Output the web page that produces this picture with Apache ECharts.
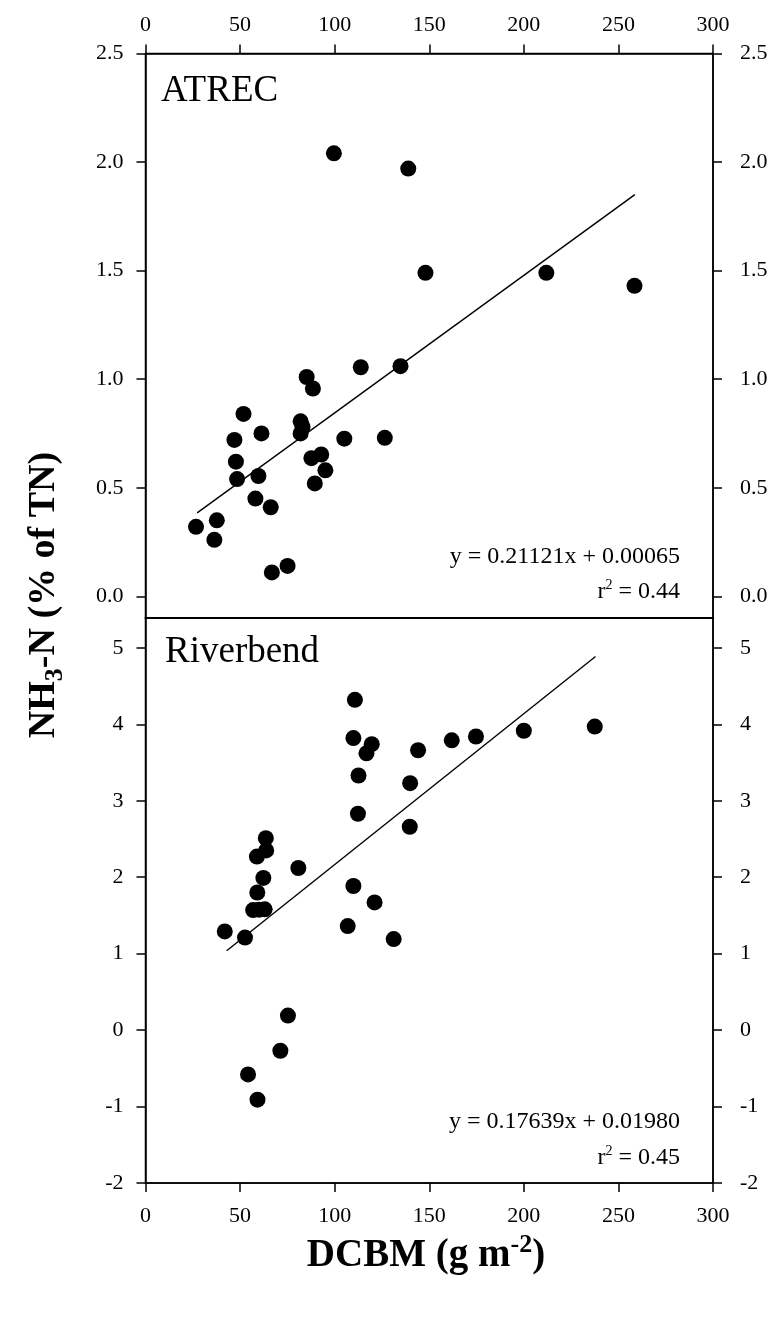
<!DOCTYPE html>
<html>
<head>
<meta charset="utf-8">
<script src="https://cdn.jsdelivr.net/npm/echarts@6/dist/echarts.min.js"></script>
<style>
html,body{margin:0;padding:0;background:#fff;}
#chart{width:776px;height:1318px;}
</style>
</head>
<body>
<div id="chart"></div>
<script>
// ---- data ----
const xTicks = [0, 50, 100, 150, 200, 250, 300];
const atrecYTicks = [0, 0.5, 1.0, 1.5, 2.0, 2.5];
const riverYTicks = [-2, -1, 0, 1, 2, 3, 4, 5];

const atrecX = [99.6, 138.9, 148.0, 211.9, 258.5, 113.8, 134.8, 85.2, 88.5, 51.8, 82.0, 83.0, 82.0, 61.3, 47.0, 105.1, 126.5, 47.8, 87.7, 92.9, 95.1, 48.4, 59.7, 89.5, 58.1, 66.2, 37.7, 26.7, 36.4, 75.1, 66.8];
const atrecY = [2.04, 1.97, 1.49, 1.49, 1.43, 1.055, 1.06, 1.01, 0.957, 0.84, 0.806, 0.78, 0.75, 0.75, 0.72, 0.726, 0.73, 0.62, 0.636, 0.653, 0.58, 0.54, 0.554, 0.52, 0.45, 0.41, 0.35, 0.32, 0.26, 0.14, 0.11];

const riverX = [110.7, 109.9, 119.6, 116.8, 144.1, 161.9, 174.7, 200.0, 237.5, 112.6, 139.9, 112.3, 139.7, 63.6, 63.8, 58.9, 80.8, 62.3, 109.9, 59.1, 121.1, 56.9, 60.1, 63.0, 41.9, 52.6, 106.9, 131.2, 75.3, 71.3, 54.2, 59.2];
const riverY = [4.32, 3.82, 3.74, 3.62, 3.66, 3.79, 3.84, 3.915, 3.97, 3.33, 3.23, 2.83, 2.66, 2.51, 2.35, 2.27, 2.12, 1.99, 1.885, 1.80, 1.67, 1.57, 1.575, 1.58, 1.29, 1.21, 1.36, 1.19, 0.19, -0.27, -0.58, -0.91];

const atrecFitX = [27.3, 258.7];
const atrecFitY = [0.384, 1.85];
const riverFitX = [42.9, 237.9];
const riverFitY = [1.037, 4.886];

const panelNames = ['ATREC', 'Riverbend'];
const equations = ['y = 0.21121x + 0.00065', 'y = 0.17639x + 0.01980'];
const r2Values = ['0.44', '0.45'];

// ---- build ----
const FONT = '"Liberation Serif", "Times New Roman", serif';
const zip = (a, b) => a.map((v, i) => [v, b[i]]);

const G = { left: 145.5, width: 567.5 };
const grids = [
  { left: G.left, width: G.width, top: 53.5, height: 564.5 },
  { left: G.left, width: G.width, top: 618, height: 565 }
];

const lineStyle = { color: '#000', width: 1.5 };
const labelBase = { color: '#000', fontFamily: FONT, fontSize: 22 };

function xAx(grid, pos, labeled, margin) {
  return {
    type: 'value', gridIndex: grid, position: pos, min: xTicks[0], max: xTicks[xTicks.length - 1],
    axisLine: { show: true, onZero: false, lineStyle },
    axisTick: { show: labeled, inside: false, length: 9, lineStyle, customValues: xTicks },
    axisLabel: Object.assign({ show: labeled, margin: margin, customValues: xTicks }, labelBase),
    splitLine: { show: false }
  };
}
function yAx(grid, pos, min, max, ticks, fmt, margin) {
  return {
    type: 'value', gridIndex: grid, position: pos, min, max,
    axisLine: { show: true, onZero: false, lineStyle },
    axisTick: { show: true, inside: false, length: 9, lineStyle, customValues: ticks },
    axisLabel: Object.assign({ margin: margin, customValues: ticks, formatter: fmt }, labelBase),
    splitLine: { show: false }
  };
}

const fmt1 = v => Number(v).toFixed(1);
const fmt0 = v => String(Math.round(v));

const dotStyle = { color: '#000', opacity: 1 };

const eqRich = {
  t: { fontFamily: FONT, fontSize: 24, lineHeight: 28, color: '#000' },
  s: { fontFamily: FONT, fontSize: 14, lineHeight: 15, verticalAlign: 'top', color: '#000' }
};

const option = {
  animation: false,
  backgroundColor: '#fff',
  grid: grids.map(g => Object.assign({ show: true, borderColor: '#000', borderWidth: 1.5, backgroundColor: 'transparent' }, g)),
  xAxis: [
    xAx(0, 'top', true, 17),
    xAx(0, 'bottom', false, 8),
    xAx(1, 'bottom', true, 22),
    xAx(1, 'top', false, 8)
  ],
  yAxis: [
    yAx(0, 'left', -0.1, 2.5, atrecYTicks, fmt1, 22),
    yAx(0, 'right', -0.1, 2.5, atrecYTicks, fmt1, 27),
    yAx(1, 'left', -2, 5.39, riverYTicks, fmt0, 22),
    yAx(1, 'right', -2, 5.39, riverYTicks, fmt0, 27)
  ],
  series: [
    { type: 'scatter', xAxisIndex: 0, yAxisIndex: 0, symbol: 'circle', symbolSize: 16,
      itemStyle: dotStyle, data: zip(atrecX, atrecY), z: 3 },
    { type: 'line', xAxisIndex: 0, yAxisIndex: 0, symbol: 'none',
      lineStyle: { color: '#000', width: 1.4 }, data: zip(atrecFitX, atrecFitY), z: 2 },
    { type: 'scatter', xAxisIndex: 2, yAxisIndex: 2, symbol: 'circle', symbolSize: 16,
      itemStyle: dotStyle, data: zip(riverX, riverY), z: 3 },
    { type: 'line', xAxisIndex: 2, yAxisIndex: 2, symbol: 'none',
      lineStyle: { color: '#000', width: 1.4 }, data: zip(riverFitX, riverFitY), z: 2 }
  ],
  graphic: [
    { type: 'text', x: 161, y: 91, style: { text: panelNames[0], font: '37px ' + FONT, fill: '#000', align: 'left', verticalAlign: 'middle' } },
    { type: 'text', x: 165, y: 652, style: { text: panelNames[1], font: '37px ' + FONT, fill: '#000', align: 'left', verticalAlign: 'middle' } },
    // equations (right aligned at x=680)
    { type: 'text', x: 680, y: 557, style: { text: equations[0], font: '24px ' + FONT, fill: '#000', align: 'right', verticalAlign: 'middle' } },
    { type: 'text', x: 680, y: 592, style: { text: '{t|r}{s|2}{t| = ' + r2Values[0] + '}', align: 'right', verticalAlign: 'middle', rich: eqRich } },
    { type: 'text', x: 680, y: 1122, style: { text: equations[1], font: '24px ' + FONT, fill: '#000', align: 'right', verticalAlign: 'middle' } },
    { type: 'text', x: 680, y: 1158, style: { text: '{t|r}{s|2}{t| = ' + r2Values[1] + '}', align: 'right', verticalAlign: 'middle', rich: eqRich } },
    // axis titles
    { type: 'text', x: 426, y: 1256, style: { text: '{b|DCBM (g m}{s|-2}{b|)}', align: 'center', verticalAlign: 'middle',
        rich: { b: { fontFamily: FONT, fontWeight: 'bold', fontSize: 39, lineHeight: 48, color: '#000' },
                s: { fontFamily: FONT, fontWeight: 'bold', fontSize: 26, lineHeight: 27, verticalAlign: 'top', color: '#000' } } } },
    { type: 'text', x: 44, y: 595, rotation: Math.PI / 2, style: { text: '{b|NH}{s|3}{b|-N (% of TN)}', align: 'center', verticalAlign: 'middle',
        rich: { b: { fontFamily: FONT, fontWeight: 'bold', fontSize: 38, lineHeight: 48, color: '#000' },
                s: { fontFamily: FONT, fontWeight: 'bold', fontSize: 26, lineHeight: 27, verticalAlign: 'bottom', color: '#000' } } } }
  ]
};

const chart = echarts.init(document.getElementById('chart'), null, { renderer: 'canvas' });
chart.setOption(option);
</script>
</body>
</html>
